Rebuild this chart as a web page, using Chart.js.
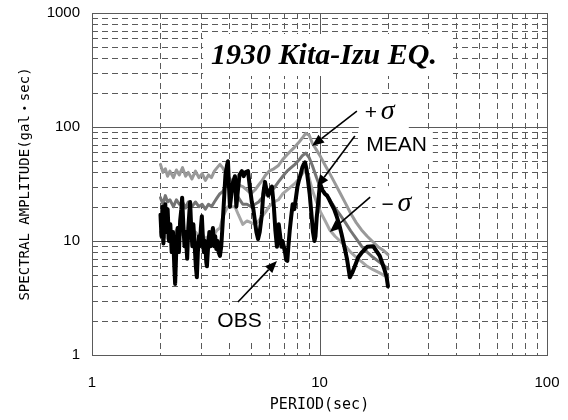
<!DOCTYPE html>
<html>
<head>
<meta charset="utf-8">
<script src="https://cdn.jsdelivr.net/npm/chart.js@4.4.0/dist/chart.umd.min.js"></script>
<style>
    html, body { margin: 0; padding: 0; background: #fff; }
</style>
</head>
<body>
<canvas id="spectrum" width="568" height="420"></canvas>
<script>
// observed spectrum, [period (sec), amplitude (gal*sec)]
const obsData = [
    [2.00,17],[2.02,11],[2.04,20],[2.06,9.5],[2.08,16],[2.10,21],[2.12,12],[2.15,19],[2.18,10],[2.21,14],
    [2.24,8],[2.27,12],[2.30,6],[2.32,4.2],[2.35,9],[2.38,13],[2.41,8],[2.44,15],[2.47,19],[2.49,24],
    [2.52,14],[2.55,9],[2.58,12],[2.62,7],[2.65,13],[2.68,18],[2.70,22],[2.73,13],[2.76,9],[2.79,14],
    [2.82,10],[2.86,6],[2.89,4.8],[2.92,8],[2.95,11],[2.98,9],[3.01,13],[3.04,16.5],[3.07,11],[3.10,8],
    [3.14,10],[3.18,6.5],[3.20,6],[3.24,9],[3.28,12],[3.32,9],[3.36,11],[3.40,13],[3.44,9],[3.48,11],
    [3.52,8.5],[3.56,10],[3.60,8],[3.65,7.4],[3.70,9],[3.75,14],[3.80,22],[3.86,38],[3.92,46],[3.96,50],
    [4.00,30],[4.04,20],[4.10,26],[4.17,33],[4.25,37],[4.31,20],[4.38,28],[4.45,38],[4.56,41],[4.64,37],
    [4.72,40],[4.85,41],[4.96,28],[5.04,22],[5.12,19],[5.20,15],[5.28,12],[5.37,10.4],[5.46,12],[5.58,17],
    [5.66,26],[5.76,33],[5.85,28],[5.95,25],[6.06,28],[6.18,30],[6.30,20],[6.40,12.3],[6.50,8.9],[6.62,14],
    [6.72,11],[6.80,8.9],[6.88,10],[6.96,9],[7.05,8],[7.14,6.8],[7.22,6.7],[7.30,9],[7.40,12.4],[7.50,16],
    [7.62,21],[7.75,19],[7.88,24],[8.00,30],[8.12,34],[8.25,38],[8.40,44],[8.52,47],[8.64,49],
    [8.78,42],[8.92,33],[9.05,26],[9.20,18],[9.36,12],[9.50,10],[9.60,11],[9.72,16],[9.85,21],[10.05,32],
    [10.3,28],[10.55,26],[10.8,25],[11.05,23],[11.3,21],[11.6,19],[11.9,16.5],[12.2,14],[12.5,11.5],[12.85,9],
    [13.2,7],[13.4,5.8],[13.6,4.8],[13.95,5.3],[14.3,6],[14.8,7.2],[15.4,8],[16.2,8.9],[17.2,9],[18.4,7.4],
    [19.2,5.8],[19.7,4.9],[20.0,4.0]
];

// simulated spectra (mean and +/- sigma) share one period list
const simPeriod = [2.0,2.05,2.1,2.15,2.2,2.28,2.35,2.42,2.5,2.58,2.65,2.75,2.85,2.95,3.05,3.15,3.25,3.35,3.45,3.55,
    3.65,3.75,3.85,3.95,4.1,4.25,4.4,4.6,4.8,5.0,5.2,5.4,5.6,5.8,6.0,6.3,6.6,6.9,7.2,7.5,
    7.8,8.1,8.4,8.7,9.0,9.3,9.7,10.1,10.6,11.1,11.7,12.3,13.0,13.7,14.5,15.3,16.2,17.2,18.2,19.2,20.0];
const plusSigma = [47,40,43,37,41,36,42,38,44,37,40,35,41,36,39,34,38,36,41,44,
    47,44,40,37,34,33,31,30,28,26,28,31,34,38,41,43,46,52,57,62,
    67,73,80,88,85,72,63,55,46,39,32,26.5,21.5,17.5,14.5,12.5,11,9.8,8.8,8.2,7.6];
const meanAmp = [24,21,25,22,23,20,23,21,22,19.5,22,20,22,20,21,19,21,20,22,24,
    26,27,30,32,31,29,24,21,21,20,21,22,24,26,27,29,33,37,41,44,
    47,51,56,59,54,46,36,29,26,23,19.5,17,14.5,12.3,10.5,9,8,7.2,6.6,6.1,5.7];
const minusSigma = [12,10,11.5,10.5,12,11,12.5,11,12,10.5,11.5,10.5,12,11,11.5,10.5,11,10,11.5,12.5,
    13,16,18,20,20,20,17,14,15,14.5,14,15,16.5,18,20,22,23,26,28,30,
    32,35,39,42,36,28,22,18,15,12.5,11,10,9,8,7.2,6.6,6,5.6,5.3,5,4.8];

const xTicks = [1, 10, 100];
const yTicks = [1, 10, 100, 1000];

// labels placed in data coordinates: [text, period, amplitude(baseline)]
const titleNote = ['1930 Kita-Izu EQ.', 10.47, 357];
const sigmaNotes = [['+', 18.6, 117.5], ['\u2212', 22.0, 18.3]];
const wordNotes = [['MEAN', 21.8, 61.6], ['OBS', 4.45, 1.76]];
// arrows: [fromPeriod, fromAmp, tipPeriod, tipAmp]
const arrows = [
    [14.6, 138, 9.27, 68.1],
    [14.3, 83.4, 9.75, 29.8],
    [16.7, 24.3, 11.1, 12.0],
    [4.38, 2.92, 6.5, 6.68]
];

function toPoints(xs, ys) {
    return xs.map((x, i) => ({x: x, y: ys[i]}));
}

function decadeLines(lo, hi) {
    var out = [];
    for (var d = lo; d < hi; d *= 10) {
        for (var m = 1; m < 10; m++) out.push({v: d * m, major: m === 1});
    }
    out.push({v: hi, major: true});
    return out;
}

const logGrid = {
    id: 'logGrid',
    beforeDatasetsDraw(chart) {
        const {ctx, chartArea: a, scales: {x, y}} = chart;
        ctx.save();
        ctx.lineWidth = 1;
        ctx.strokeStyle = '#5a5a5a';
        decadeLines(xTicks[0], xTicks[xTicks.length - 1]).forEach(g => {
            var p = Math.round(x.getPixelForValue(g.v)) + 0.5;
            ctx.setLineDash(g.major ? [] : [6, 4]);
            ctx.beginPath();
            ctx.moveTo(p, a.top);
            ctx.lineTo(p, a.bottom);
            ctx.stroke();
        });
        decadeLines(yTicks[0], yTicks[yTicks.length - 1]).forEach(g => {
            var p = Math.round(y.getPixelForValue(g.v)) + 0.5;
            ctx.setLineDash(g.major ? [] : [6, 4]);
            ctx.beginPath();
            ctx.moveTo(a.left, p);
            ctx.lineTo(a.right, p);
            ctx.stroke();
        });
        ctx.setLineDash([]);

        // white boxes behind the notes
        ctx.fillStyle = '#fff';
        ctx.font = 'italic bold 30px "Liberation Serif"';
        var tx = x.getPixelForValue(titleNote[1]), ty = y.getPixelForValue(titleNote[2]);
        var tw = ctx.measureText(titleNote[0]).width;
        ctx.fillRect(tx - tw / 2 - 8, ty - 30, tw + 24, 42);
        sigmaNotes.forEach(n => {
            var cx = x.getPixelForValue(n[1]), by = y.getPixelForValue(n[2]);
            ctx.fillRect(cx - 22, by - 25, 50, 35);
        });
        ctx.font = '21px "Liberation Sans"';
        wordNotes.forEach(n => {
            var cx = x.getPixelForValue(n[1]), by = y.getPixelForValue(n[2]);
            var w = ctx.measureText(n[0]).width;
            ctx.fillRect(cx - w / 2 - 6, by - 22, w + 12, 35);
        });
        ctx.restore();
    },
    afterDatasetsDraw(chart) {
        const {ctx, chartArea: a, scales: {x, y}} = chart;
        ctx.save();
        ctx.strokeStyle = '#5a5a5a';
        ctx.lineWidth = 1;
        ctx.strokeRect(Math.round(a.left) + 0.5, Math.round(a.top) + 0.5, Math.round(a.right - a.left), Math.round(a.bottom - a.top));

        ctx.fillStyle = '#000';
        ctx.textBaseline = 'alphabetic';
        ctx.textAlign = 'center';
        ctx.font = 'italic bold 30px "Liberation Serif"';
        ctx.fillText(titleNote[0], x.getPixelForValue(titleNote[1]), y.getPixelForValue(titleNote[2]));

        ctx.font = '21px "Liberation Sans"';
        wordNotes.forEach(n => {
            ctx.fillText(n[0], x.getPixelForValue(n[1]), y.getPixelForValue(n[2]));
        });

        ctx.textAlign = 'left';
        sigmaNotes.forEach(n => {
            var cx = x.getPixelForValue(n[1]), by = y.getPixelForValue(n[2]);
            ctx.font = '21px "Liberation Sans"';
            ctx.fillText(n[0], cx - 16, by);
            ctx.font = 'italic 28px "Liberation Serif"';
            ctx.fillText('\u03c3', cx + 0, by);
        });

        ctx.strokeStyle = '#000';
        ctx.lineWidth = 1.6;
        arrows.forEach(r => {
            var x0 = x.getPixelForValue(r[0]), y0 = y.getPixelForValue(r[1]);
            var x1 = x.getPixelForValue(r[2]), y1 = y.getPixelForValue(r[3]);
            var ang = Math.atan2(y1 - y0, x1 - x0);
            var len = 12, half = 5;
            var bx = x1 - len * Math.cos(ang), by = y1 - len * Math.sin(ang);
            ctx.beginPath();
            ctx.moveTo(x0, y0);
            ctx.lineTo(bx, by);
            ctx.stroke();
            ctx.beginPath();
            ctx.moveTo(x1, y1);
            ctx.lineTo(bx + half * Math.sin(ang), by - half * Math.cos(ang));
            ctx.lineTo(bx - half * Math.sin(ang), by + half * Math.cos(ang));
            ctx.closePath();
            ctx.fill();
        });
        ctx.restore();
    }
};

var tickFont = {family: '"Liberation Sans", Arial, sans-serif', size: 15};
var titleFont = {family: '"DejaVu Sans Mono", "Noto Sans CJK JP", monospace', size: 15};

var spectrumChart = new Chart(document.getElementById('spectrum'), {
    type: 'line',
    data: {
        datasets: [
            {label: 'OBS', data: obsData.map(p => ({x: p[0], y: p[1]})), borderColor: '#000', borderWidth: 4, order: 0},
            {label: 'MEAN', data: toPoints(simPeriod, meanAmp), borderColor: '#747474', borderWidth: 3, order: 1},
            {label: '+σ', data: toPoints(simPeriod, plusSigma), borderColor: '#999999', borderWidth: 3, order: 2},
            {label: '-σ', data: toPoints(simPeriod, minusSigma), borderColor: '#a6a6a6', borderWidth: 3, order: 3}
        ]
    },
    options: {
        responsive: false,
        animation: false,
        elements: {
            point: {radius: 0},
            line: {tension: 0, borderJoinStyle: 'round', borderCapStyle: 'round'}
        },
        layout: {padding: {left: 0, right: 21, top: 13, bottom: 0}},
        plugins: {legend: {display: false}, tooltip: {enabled: false}},
        scales: {
            x: {
                type: 'logarithmic',
                min: 1,
                max: 100,
                afterBuildTicks: s => { s.ticks = xTicks.map(v => ({value: v})); },
                afterFit: s => { s.height = 65; },
                // grid hidden: the plugin draws it; tickLength only spaces the labels
                grid: {display: false, drawTicks: true, tickLength: 19},
                border: {display: false},
                ticks: {padding: 0, color: '#000', font: tickFont, maxRotation: 0, autoSkip: false, callback: v => String(v)},
                title: {display: true, text: 'PERIOD(sec)', color: '#000', font: titleFont, padding: {top: 0, bottom: 6}}
            },
            y: {
                type: 'logarithmic',
                min: 1,
                max: 1000,
                afterBuildTicks: s => { s.ticks = yTicks.map(v => ({value: v})); },
                afterFit: s => { s.width = 92; },
                grid: {display: false, drawTicks: true, tickLength: 12},
                border: {display: false},
                ticks: {padding: 0, color: '#000', font: tickFont, autoSkip: false, callback: v => String(v)},
                title: {display: true, text: 'SPECTRAL AMPLITUDE(gal\u30fbsec)', color: '#000', font: {family: titleFont.family, size: 14}, padding: {top: 17, bottom: 0}}
            }
        }
    },
    plugins: [logGrid]
});
</script>
</body>
</html>
